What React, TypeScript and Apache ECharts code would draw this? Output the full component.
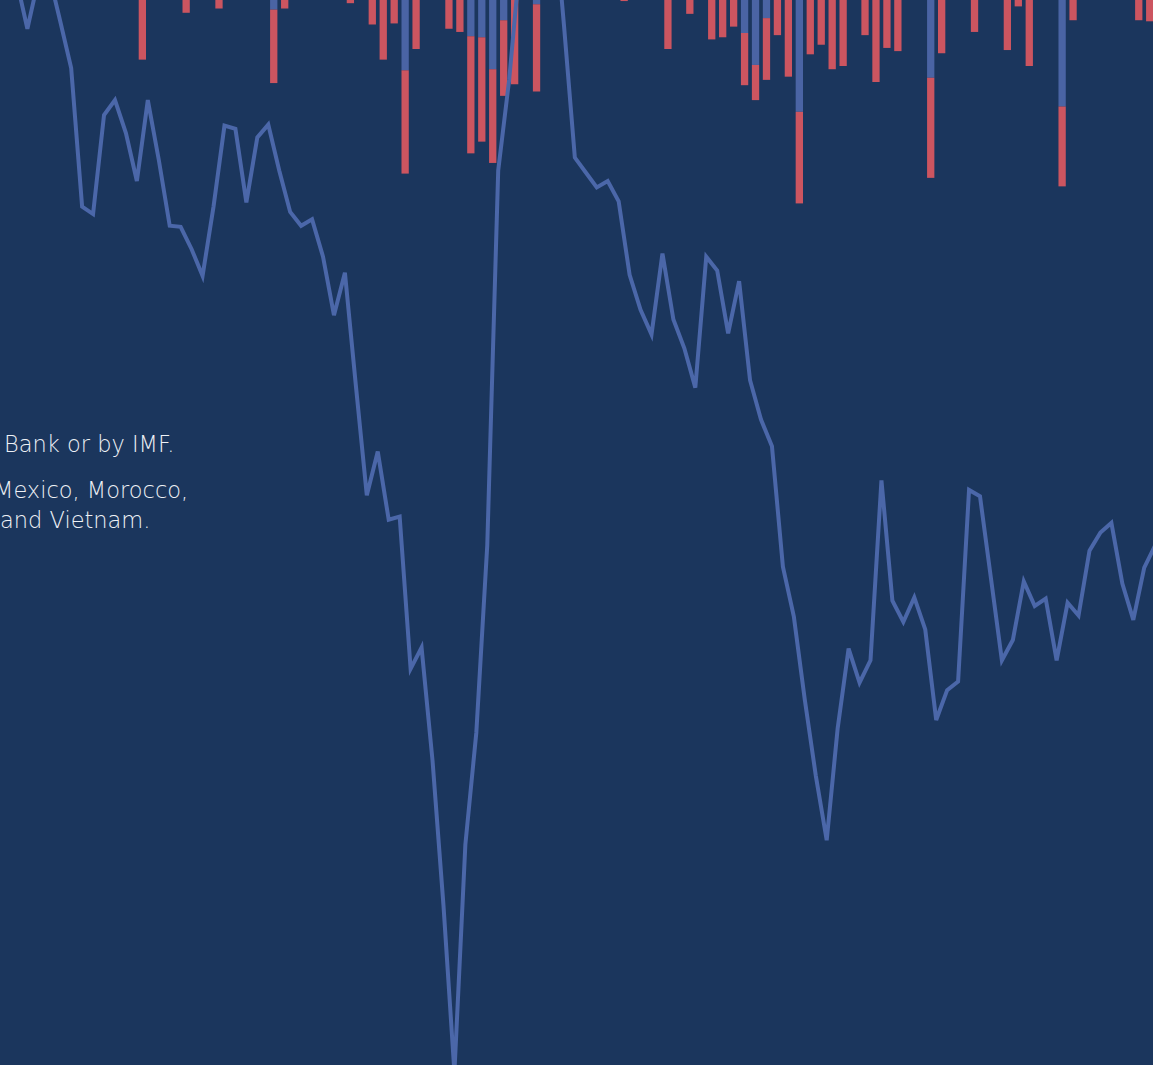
import React, { useEffect, useRef } from "react";
import * as echarts from "echarts";

// Line series: one value per period, starting at period index LINE_START
const LINE_START = -2;
const lineValues = [
  102.8, 101.9, 97.3, 101.9, 102.3, 98.0, 93.6, 80.6, 79.9, 89.2,
  90.6, 87.5, 83.0, 90.6, 85.0, 78.8, 78.7, 76.6, 74.1, 80.6,
  88.2, 87.9, 81.0, 87.1, 88.3, 84.0, 80.1, 78.8, 79.4, 75.9,
  70.4, 74.4, 63.8, 53.5, 57.6, 51.2, 51.5, 37.2, 39.2, 28.6,
  15.0, -0.7, 20.7, 31.2, 48.8, 84.0, 92.5, 103.8, 107.5, 107.5,
  109.4, 97.7, 85.2, 83.8, 82.4, 83.0, 81.1, 74.2, 70.9, 68.6,
  76.2, 70.0, 67.3, 63.6, 75.9, 74.6, 68.7, 73.6, 64.3, 60.6,
  58.1, 46.8, 42.1, 34.3, 27.2, 21.1, 31.6, 39.1, 35.9, 38.0,
  54.9, 43.6, 41.6, 43.9, 40.9, 32.4, 35.2, 36.0, 54.0, 53.4,
  45.7, 38.0, 39.9, 45.4, 43.1, 43.8, 38.0, 43.4, 42.2, 48.3,
  50.0, 50.9, 45.2, 41.8, 46.7, 48.8, 50.2,
];

// Stacked bars (negative, hanging from the top baseline)
const barPositions = [
  10.5, 14.5, 17.5, 22.5, 23.5, 29.5, 31.5, 32.5, 33.5, 34.5,
  35.5, 38.5, 39.5, 40.5, 41.5, 42.5, 43.5, 44.5, 46.5, 54.5,
  58.5, 60.5, 62.5, 63.5, 64.5, 65.5, 66.5, 67.5, 68.5, 69.5,
  70.5, 71.5, 72.5, 73.5, 74.5, 76.5, 77.5, 78.5, 79.5, 82.5,
  83.5, 86.5, 89.5, 90.5, 91.5, 94.5, 95.5, 101.5, 102.5,
];
const barBlue = [
  0, 0, 0, -0.9, 0, 0, 0, 0, 0, -6.6,
  0, 0, 0, -3.4, -3.5, -6.5, -1.9, 0, -0.4, 0,
  0, 0, 0, 0, 0, -3.1, -6.1, -1.7, 0, 0,
  -10.5, 0, 0, 0, 0, 0, 0, 0, 0, -7.3,
  0, 0, 0, 0, 0, -10.0, 0, 0, 0,
];
const barRed = [
  -5.6, -1.2, -0.8, -6.9, -0.8, -0.3, -2.3, -5.6, -2.2, -9.7,
  -4.6, -2.7, -3.0, -11.0, -9.8, -8.8, -7.1, -7.9, -8.2, -0.1,
  -4.6, -1.3, -3.7, -3.5, -2.5, -4.9, -3.3, -5.8, -3.3, -7.2,
  -8.6, -5.1, -4.2, -6.5, -6.2, -3.3, -7.7, -4.5, -4.8, -9.4,
  -5.0, -3.0, -4.7, -0.6, -6.2, -7.5, -1.9, -1.9, -2.0,
];

const noteLines = ["Bank or by IMF.", "Mexico, Morocco,", "and Vietnam."];

const BG = "#1b365d";
const LINE_COLOR = "#4b67a9";
const RED = "#cc5560";
const BLUE = "#4a64a4";
const TEXT = "#eef1f6";

export default function App() {
  const ref = useRef<HTMLDivElement>(null);

  useEffect(() => {
    document.body.style.margin = "0";
    document.body.style.background = BG;
    const chart = echarts.init(ref.current as HTMLDivElement, null, { renderer: "svg" });

    const lineData = lineValues.map((v, k) => [LINE_START + k, v]);
    // value first, position second (so that the stack runs along the value dimension)
    const blueData = barPositions.map((p, k) => [barBlue[k], p]);
    const redData = barPositions.map((p, k) => [barRed[k], p]);

    const textStyle = (text: string) => ({
      text,
      fill: TEXT,
      fontFamily: "DejaVu Sans",
      fontWeight: 200,
      fontSize: 22.5,
      align: "left",
      verticalAlign: "middle",
    });

    chart.setOption({
      animation: false,
      backgroundColor: BG,
      grid: { left: 0, right: 0, top: 0, bottom: 0 },
      xAxis: {
        type: "value",
        min: -2.5,
        max: 102.8,
        show: false,
        splitLine: { show: false },
      },
      yAxis: [
        { type: "value", min: 0, max: 100, show: false, splitLine: { show: false } },
        { type: "value", min: -100, max: 0, show: false, splitLine: { show: false } },
      ],
      graphic: [
        { type: "text", x: 4, y: 444, style: textStyle(noteLines[0]) },
        { type: "text", x: -6, y: 490, style: textStyle(noteLines[1]) },
        { type: "text", x: 0, y: 520, style: textStyle(noteLines[2]) },
      ],
      series: [
        {
          type: "bar",
          name: "blue",
          yAxisIndex: 1,
          stack: "s",
          barWidth: 7.3,
          encode: { x: 1, y: 0 },
          data: blueData,
          itemStyle: { color: BLUE },
          z: 2,
        },
        {
          type: "bar",
          name: "red",
          yAxisIndex: 1,
          stack: "s",
          barWidth: 7.3,
          encode: { x: 1, y: 0 },
          data: redData,
          itemStyle: { color: RED },
          z: 2,
        },
        {
          type: "line",
          data: lineData,
          yAxisIndex: 0,
          showSymbol: false,
          symbol: "none",
          lineStyle: { color: LINE_COLOR, width: 4, join: "miter", cap: "butt" },
          z: 3,
        },
      ],
    });

    return () => chart.dispose();
  }, []);

  return (
    <div
      ref={ref}
      style={{ position: "fixed", left: 0, top: 0, width: 1153, height: 1065, overflow: "hidden" }}
    />
  );
}
